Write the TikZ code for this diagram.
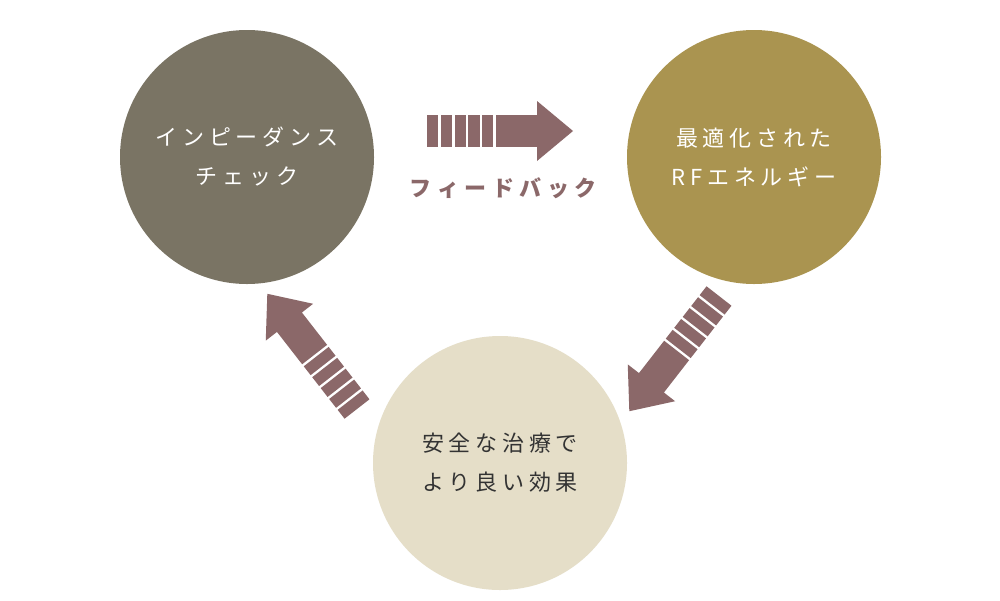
\documentclass[tikz,border=0pt]{standalone}
\usepackage{fontspec}
\newfontfamily\jp{Noto Sans CJK JP}
\definecolor{arrowc}{HTML}{8B6869}
\definecolor{leftc}{HTML}{7A7464}
\definecolor{rightc}{HTML}{AA9450}
\definecolor{bottomc}{HTML}{E5DEC8}
\definecolor{darktext}{HTML}{333333}
\newcommand\gk{\kern4.7pt}
\newcommand\gb{\kern5.5pt}
\tikzset{
  bigcircle/.style={circle, minimum size=254pt, inner sep=0pt, draw=none},
  txtline/.style={anchor=base, inner sep=0pt, font=\jp\fontsize{22pt}{24pt}\selectfont},
  arrowpart/.style={fill=arrowc, draw=none},
}
\begin{document}
\begin{tikzpicture}[x=1pt,y=-1pt]
\useasboundingbox (0,0) rectangle (1000,600);
\fill[white] (0,0) rectangle (1000,600);
\node[bigcircle, fill=leftc] (imp) at (247,157) {};
\node[bigcircle, fill=rightc] (rf) at (754,157) {};
\node[bigcircle, fill=bottomc] (res) at (500,463) {};
\node[txtline, text=white] (imp1) at (247,145.5) {イ\gk ン\gk ピ\gk ー\gk ダ\gk ン\gk ス};
\node[txtline, text=white] (imp2) at (247,184.5) {チ\gk ェ\gk ッ\gk ク};
\node[txtline, text=white] (rf1) at (754,146.5) {最\gk 適\gk 化\gk さ\gk れ\gk た};
\node[txtline, text=white] (rf2) at (754,185.5) {R\gk F\gk エ\gk ネ\gk ル\gk ギ\gk ー};
\node[txtline, text=darktext] (res1) at (500,451.5) {安\gk 全\gk な\gk 治\gk 療\gk で};
\node[txtline, text=darktext] (res2) at (500,490.5) {よ\gk り\gk 良\gk い\gk 効\gk 果};
\node[anchor=base, inner sep=0pt, text=arrowc, font=\jp\bfseries\fontsize{22pt}{24pt}\selectfont] (fb) at (503,196) {フ\gb ィ\gb ー\gb ド\gb バ\gb ッ\gb ク};
\coordinate (a1) at (427,131);
\coordinate (a2) at (719,296);
\coordinate (a3) at (357,409);
\foreach \p/\ang in {a1/0, a2/232.1, a3/127.9} {
  \begin{scope}[shift={(\p)}, rotate=\ang]
    \foreach \i in {0,...,4} {
      \fill[arrowpart] ({\i*13.8},-15.8) rectangle ({\i*13.8+11.2},15.8);
    }
    \fill[arrowpart] (69,-15.8) -- (110,-15.8) -- (110,-30) -- (146,0) -- (110,30) -- (110,15.8) -- (69,15.8) -- cycle;
  \end{scope}
}
\end{tikzpicture}
\end{document}
